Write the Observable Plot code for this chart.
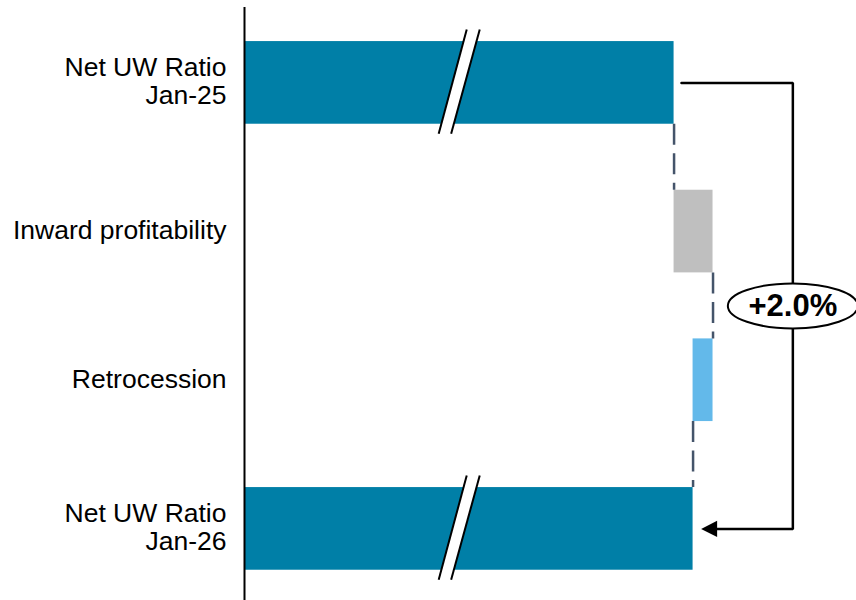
<!DOCTYPE html>
<html><head><meta charset="utf-8">
<script src="https://cdn.jsdelivr.net/npm/d3@7"></script>
<script src="https://cdn.jsdelivr.net/npm/@observablehq/plot@0.6"></script>
<style>body{margin:0;background:#fff} #chart svg{display:block}</style>
</head><body><div id="chart"></div>
<script>
// ---- data ----
const categories = ["Net UW Ratio\nJan-25", "Inward profitability", "Retrocession", "Net UW Ratio\nJan-26"];
const stepTypes = ["total", "delta", "delta", "total"];
const values = [88.0, 4.1, -2.1, 90.0];   // % (totals shown on a broken axis)
const axisBase = 42.9;                    // value at the (broken) axis origin
const breakValue = 65.2;                  // where the total bars are broken
const bracketValue = 100.5;               // x of the change bracket

// ---- build waterfall table ----
const H = 0.278; // half bar thickness in band-index units
let run = 0;
const rows = categories.map((cat, i) => {
  let x1, x2;
  if (stepTypes[i] === "total") { x1 = axisBase; x2 = values[i]; run = values[i]; }
  else { x1 = run; x2 = run + values[i]; run = x2; }
  const kind = stepTypes[i] === "total" ? "total" : (values[i] >= 0 ? "up" : "down");
  return {cat, i, x1, x2, kind};
});
const connectors = rows.slice(0, -1).map((d, i) => ({x: d.x2, y1: i + H, y2: i + 1 - H}));

const totals = rows.filter(d => d.kind === "total");
const brkTop = -0.359, brkBot = 0.342;
const breakFill = totals.flatMap(d => [
  {g: d.i, x: breakValue + 0.98, y: d.i + brkTop},
  {g: d.i, x: breakValue + 2.35, y: d.i + brkTop},
  {g: d.i, x: breakValue - 0.66, y: d.i + brkBot},
  {g: d.i, x: breakValue - 1.97, y: d.i + brkBot}
]);
const breakLines = totals.flatMap(d => [
  {x1: breakValue + 0.98, x2: breakValue - 1.97, y1: d.i + brkTop, y2: d.i + brkBot},
  {x1: breakValue + 2.35, x2: breakValue - 0.66, y1: d.i + brkTop, y2: d.i + brkBot}
]);

const first = rows[0], last = rows[rows.length - 1];
const change = last.x2 - first.x2;
const tipX = last.x2 + 0.85, baseX = tipX + 1.68;
const bracket = [
  {x: first.x2 + 0.78, y: first.i},
  {x: bracketValue, y: first.i},
  {x: bracketValue, y: last.i},
  {x: baseX, y: last.i}
];
const arrowHead = [
  {x: tipX, y: last.i},
  {x: baseX, y: last.i - 0.054},
  {x: baseX, y: last.i + 0.054}
];
const badge = [{x: bracketValue, y: (first.i + last.i) / 2, label: (change >= 0 ? "+" : "") + change.toFixed(1) + "%"}];

const ellipse = {
  draw(ctx) {
    const rx = 65, ry = 22.5, k = 0.5523;
    ctx.moveTo(rx, 0);
    ctx.bezierCurveTo(rx, ry * k, rx * k, ry, 0, ry);
    ctx.bezierCurveTo(-rx * k, ry, -rx, ry * k, -rx, 0);
    ctx.bezierCurveTo(-rx, -ry * k, -rx * k, -ry, 0, -ry);
    ctx.bezierCurveTo(rx * k, -ry, rx, -ry * k, rx, 0);
    ctx.closePath();
  }
};

const chart = Plot.plot({
  width: 856, height: 600,
  marginLeft: 244, marginRight: 0, marginTop: 7, marginBottom: 0,
  style: {fontFamily: "'Liberation Sans', Arial, sans-serif", background: "#fff"},
  x: {type: "linear", domain: [axisBase, 100], range: [245, 787.6], axis: null},
  y: {type: "linear", domain: [0, 3], range: [82.4, 528.4], axis: null},
  color: {domain: ["total", "up", "down"], range: ["#007FA7", "#BFBFBF", "#63B9EA"]},
  marks: [
    Plot.rect(rows, {x1: "x1", x2: "x2", y1: d => d.i - H, y2: d => d.i + H, fill: "kind"}),
    Plot.ruleX(connectors, {x: "x", y1: "y1", y2: "y2", stroke: "#44546A", strokeWidth: 2.5, strokeDasharray: "21,8.5"}),
    Plot.line(breakFill, {x: "x", y: "y", z: "g", fill: "white", stroke: "none"}),
    Plot.link(breakLines, {x1: "x1", x2: "x2", y1: "y1", y2: "y2", stroke: "black", strokeWidth: 2}),
    Plot.ruleX([axisBase], {stroke: "black", strokeWidth: 2, dx: -1}),
    Plot.text(rows, {x: axisBase, y: "i", text: "cat", textAnchor: "end", dx: -19, dy: -1.5, fontSize: 26.5, lineHeight: 1.057, fill: "black"}),
    Plot.line(bracket, {x: "x", y: "y", stroke: "black", strokeWidth: 2.5, strokeLinejoin: "miter"}),
    Plot.line(arrowHead, {x: "x", y: "y", fill: "black", stroke: "none"}),
    Plot.dot(badge, {x: "x", y: "y", symbol: ellipse, r: 10, fill: "white", stroke: "black", strokeWidth: 2}),
    Plot.text(badge, {x: "x", y: "y", text: "label", fontSize: 31, fontWeight: "bold", fill: "black"})
  ]
});
document.getElementById("chart").appendChild(chart);
</script>
</body></html>
